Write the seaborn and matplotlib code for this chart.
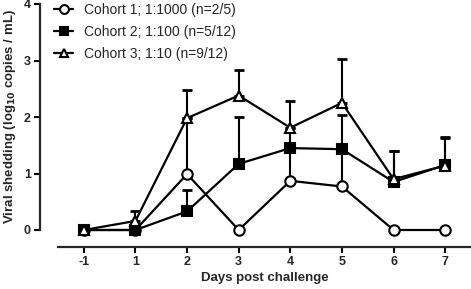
import matplotlib
matplotlib.use("Agg")
import matplotlib.pyplot as plt
import seaborn as sns
import pandas as pd

# Data
days = ["-1", "1", "2", "3", "4", "5", "6", "7"]
cohort_labels = ["Cohort 1; 1:1000 (n=2/5)", "Cohort 2; 1:100 (n=5/12)", "Cohort 3; 1:10 (n=9/12)"]
cohort1 = [0, 0, 0.99, 0, 0.87, 0.77, 0, 0]
cohort2 = [0, 0, 0.33, 1.17, 1.45, 1.43, 0.85, 1.15]
cohort3 = [0, 0.16, 1.98, 2.38, 1.81, 2.25, 0.90, 1.14]
# upper end of the error bars (None = no bar)
cohort1_upper = [None, None, 1.98, None, 1.44, 1.42, None, None]
cohort2_upper = [None, None, 0.70, 2.00, 1.80, 2.04, 1.39, 1.64]
cohort3_upper = [None, 0.34, 2.48, 2.84, 2.28, 3.02, 1.39, 1.62]

values = [cohort1, cohort2, cohort3]
uppers = [cohort1_upper, cohort2_upper, cohort3_upper]
styles = [
    dict(marker="o", markerfacecolor="white", markersize=7.5),
    dict(marker="s", markerfacecolor="black", markersize=6.5),
    dict(marker="^", markerfacecolor="white", markersize=7.5),
]

rows = []
for label, vals, ups in zip(cohort_labels, values, uppers):
    for i, (d, v, u) in enumerate(zip(days, vals, ups)):
        rows.append({"Cohort": label, "pos": i, "Day": d, "Value": v, "Upper": u})
df = pd.DataFrame(rows)

sns.set_style("ticks")
plt.rcParams["font.family"] = ["Liberation Sans", "DejaVu Sans"]

fig = plt.figure(figsize=(4.71, 2.89), dpi=100)
ax = fig.add_axes([58 / 471, 59 / 289, 413 / 471, 226 / 289])

for label in cohort_labels:
    sub = df[df["Cohort"] == label]
    bars = sub.dropna(subset=["Upper"])
    ax.errorbar(bars["pos"], bars["Value"],
                yerr=[[0] * len(bars), (bars["Upper"] - bars["Value"]).tolist()],
                fmt="none", ecolor="black", elinewidth=1.5, capsize=3.5, capthick=2,
                clip_on=False, zorder=2)

for label, st in zip(cohort_labels, styles):
    sub = df[df["Cohort"] == label]
    sns.lineplot(data=sub, x="pos", y="Value", color="black", linewidth=1.6,
                 markeredgewidth=1.5, markeredgecolor="black",
                 label=label, ax=ax, zorder=3, **st)

for ln in ax.lines:
    ln.set_clip_on(False)
for coll in ax.collections:
    coll.set_clip_on(False)

ax.set_xlim(-0.5, 7.5)
ax.set_ylim(0, 4)
ax.set_xticks(range(len(days)))
ax.set_xticklabels(days)
ax.set_yticks([0, 1, 2, 3, 4])

sns.despine(ax=ax)
ax.spines["left"].set_position(("outward", 13))
ax.spines["bottom"].set_position(("outward", 12))
ax.spines["left"].set_linewidth(1.6)
ax.spines["bottom"].set_linewidth(1.6)
ax.tick_params(axis="both", width=1.5, length=4, labelsize=9, pad=2.5, color="black")
for t in ax.get_xticklabels() + ax.get_yticklabels():
    t.set_fontweight("bold")

ax.set_xlabel("Days post challenge", fontsize=9.5, fontweight="bold", labelpad=3)
ax.set_ylabel("Viral shedding (log$_{\\mathbf{10}}$ copies / mL)", fontsize=9.5,
              fontweight="bold", labelpad=4)

leg = ax.legend(loc="upper left", bbox_to_anchor=(-0.01, 1.006), frameon=False,
                fontsize=10, handlelength=1.4, handletextpad=0.8, labelspacing=0.6,
                borderaxespad=0, borderpad=0, markerscale=0.85)

fig.savefig("out.png", dpi=100)
